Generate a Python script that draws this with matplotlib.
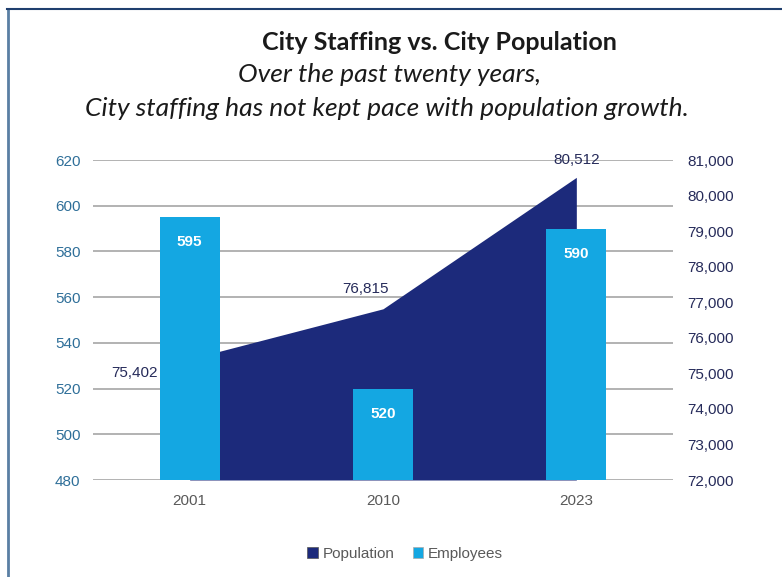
import matplotlib.pyplot as plt
from matplotlib.lines import Line2D
from matplotlib.patches import Patch

years = ['2001', '2010', '2023']
employees = [595, 520, 590]
population = [75402, 76815, 80512]

navy = '#1c2a7b'
cyan = '#14a7e2'

plt.rcParams['font.family'] = ['Liberation Sans', 'DejaVu Sans']

fig = plt.figure(figsize=(7.82, 5.77), dpi=100)
rect = [93 / 782, 1 - 480 / 577, 580 / 782, 320 / 577]

# base axes: left scale + gridlines
ax = fig.add_axes(rect)
ax.set_xlim(-0.5, 2.5)
ax.set_ylim(480, 620)
ax.set_yticks(range(480, 621, 20))
ax.grid(axis='y', color='#a6a6a6', linewidth=1.2)
ax.set_axisbelow(True)
ax.tick_params(axis='y', length=0, labelsize=11, labelcolor='#2f6f99', pad=9)
ax.set_xticks(range(len(years)))
ax.set_xticklabels(years)
ax.tick_params(axis='x', length=0, labelsize=11, labelcolor='#595959', pad=10)
for s in ax.spines.values():
    s.set_visible(False)

# population area on the right scale
ax2 = ax.twinx()
ax2.set_ylim(72000, 81000)
ax2.set_yticks(range(72000, 81001, 1000))
ax2.yaxis.set_major_formatter(plt.FuncFormatter(lambda v, p: f'{int(v):,}'))
ax2.tick_params(axis='y', length=0, labelsize=11, labelcolor='#262b5a', pad=10)
ax2.fill_between(range(len(years)), population, 72000, color=navy, linewidth=0)
for s in ax2.spines.values():
    s.set_visible(False)

# employee bars on top, sharing the left scale
ax3 = ax.twinx()
ax3.set_ylim(480, 620)
ax3.set_yticks([])
for s in ax3.spines.values():
    s.set_visible(False)
bars = ax3.bar(range(len(years)), employees, width=0.31, color=cyan)
for b, e in zip(bars, employees):
    ax3.annotate(str(e), (b.get_x() + b.get_width() / 2, e), xytext=(0, -25),
                 textcoords='offset pixels', ha='center', va='center',
                 fontsize=11, fontweight='bold', color='white')

# population labels, drawn last so the bars don't hide them
offsets = [(-55, -14), (-18, 20), (0, 17)]
for i, (p, off) in enumerate(zip(population, offsets)):
    ax3.annotate(f'{p:,}', (i, p), xycoords=ax2.transData, xytext=off,
                 textcoords='offset pixels', ha='center', va='center',
                 fontsize=11, color='#262b5a')

fig.text(439 / 782, 1 - 42 / 577, 'City Staffing vs. City Population',
         ha='center', va='center', fontsize=18, fontweight='bold',
         family='Lato', color='#1a1a1a')
fig.text(390 / 782, 1 - 75 / 577, 'Over the past twenty years,',
         ha='center', va='center', fontsize=19, style='italic',
         family='Lato', color='#1a1a1a')
fig.text(387 / 782, 1 - 108 / 577,
         'City staffing has not kept pace with population growth.',
         ha='center', va='center', fontsize=19, style='italic',
         family='Lato', color='#1a1a1a')

handles = [Patch(facecolor=navy, edgecolor='#555555', linewidth=0.5),
           Patch(facecolor=cyan, edgecolor='#aaaaaa', linewidth=0.5)]
fig.legend(handles, ['Population', 'Employees'], loc='center',
           bbox_to_anchor=(405 / 782, 1 - 554 / 577), ncol=2, frameon=False,
           handlelength=0.7, handleheight=0.7, handletextpad=0.3,
           columnspacing=1.2, fontsize=11, labelcolor='#595959')

# frame edges
fig.add_artist(Line2D([7.5 / 782, 7.5 / 782], [0, 1 - 9 / 577],
                      color='#5a7fa3', linewidth=2))
fig.add_artist(Line2D([6.5 / 782, 1], [1 - 9 / 577, 1 - 9 / 577],
                      color='#1f3f6e', linewidth=1.5))

fig.savefig('out.png', dpi=100)
